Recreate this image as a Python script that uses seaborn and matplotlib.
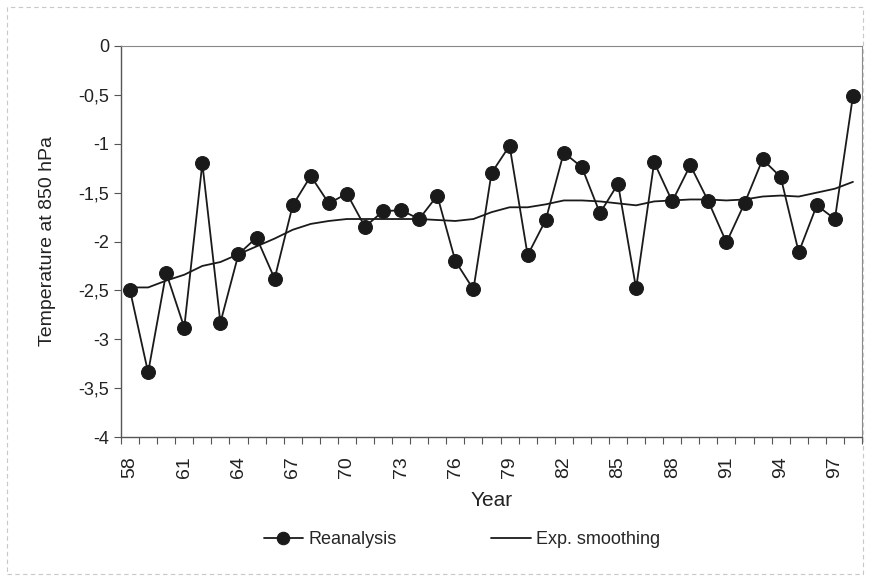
import matplotlib
matplotlib.use("Agg")
import matplotlib.pyplot as plt
import seaborn as sns
import pandas as pd
from matplotlib.ticker import FixedLocator, FuncFormatter
from matplotlib.patches import Rectangle

years = list(range(58, 99))
reanalysis = [-2.50, -3.34, -2.32, -2.88, -1.20, -2.83, -2.13, -1.96, -2.38, -1.63,
              -1.33, -1.61, -1.51, -1.85, -1.69, -1.68, -1.77, -1.53, -2.20, -2.49,
              -1.30, -1.02, -2.14, -1.78, -1.09, -1.24, -1.71, -1.41, -2.48, -1.19,
              -1.59, -1.22, -1.59, -2.01, -1.61, -1.16, -1.34, -2.11, -1.63, -1.77,
              -0.51]
smoothing = [-2.47, -2.47, -2.40, -2.34, -2.25, -2.21, -2.13, -2.05, -1.97, -1.88,
             -1.82, -1.79, -1.77, -1.77, -1.77, -1.77, -1.77, -1.78, -1.79, -1.77,
             -1.70, -1.65, -1.65, -1.62, -1.58, -1.58, -1.59, -1.61, -1.63, -1.59,
             -1.58, -1.57, -1.57, -1.58, -1.57, -1.54, -1.53, -1.54, -1.50, -1.46,
             -1.39]
tick_years = list(range(58, 99, 3))
y_ticks = [0, -0.5, -1, -1.5, -2, -2.5, -3, -3.5, -4]

df = pd.DataFrame({"Year": years, "Reanalysis": reanalysis, "Exp. smoothing": smoothing})

sns.set_theme(style="white")
plt.rcParams["font.family"] = ["Liberation Sans", "DejaVu Sans"]

fig = plt.figure(figsize=(8.69, 5.80), dpi=100)
ax = fig.add_axes([121/869, 1-437/580, (862-121)/869, (437-46)/580])

sns.lineplot(data=df, x="Year", y="Reanalysis", ax=ax, color="#1a1a1a", lw=1.3,
             marker="o", markersize=10, markeredgecolor="#1a1a1a", label="Reanalysis")
sns.lineplot(data=df, x="Year", y="Exp. smoothing", ax=ax, color="#1a1a1a", lw=1.3,
             label="Exp. smoothing")

ax.set_xlim(57.5, 98.5)
ax.set_ylim(-4, 0)
ax.xaxis.set_major_locator(FixedLocator(tick_years))
ax.xaxis.set_minor_locator(FixedLocator([y + 0.5 for y in range(57, 99)]))
ax.set_xticklabels([str(t) for t in tick_years], rotation=90)
ax.yaxis.set_major_locator(FixedLocator(y_ticks))
ax.yaxis.set_major_formatter(FuncFormatter(lambda v, p: ("%g" % v).replace(".", ",")))
ax.tick_params(axis="x", which="major", length=0, labelsize=14, pad=14, colors="#222222")
ax.tick_params(axis="x", which="minor", length=5, width=0.8, color="#555555", bottom=True)
ax.tick_params(axis="y", which="major", length=5, width=0.8, color="#555555", left=True,
               labelsize=13, colors="#222222")
for s in ["left", "bottom"]:
    ax.spines[s].set_color("#555555")
    ax.spines[s].set_linewidth(1.0)
for s in ["top", "right"]:
    ax.spines[s].set_color("#888888")
    ax.spines[s].set_linewidth(0.8)

ax.set_xlabel("Year", fontsize=15, color="#222222", labelpad=9)
ax.set_ylabel("Temperature at 850 hPa", fontsize=14, color="#222222", labelpad=16)

ax.legend(loc="center", bbox_to_anchor=(0.46, -0.263), ncol=2, frameon=False,
          fontsize=13, handlelength=2.2, columnspacing=5.2, handletextpad=0.3,
          markerscale=0.9)

fig.patches.append(Rectangle((0.008, 0.01), 0.985, 0.978, transform=fig.transFigure,
                             fill=False, edgecolor="#c8c8c8", lw=0.8, ls=(0, (4, 3))))

fig.savefig("out.png", dpi=100)
